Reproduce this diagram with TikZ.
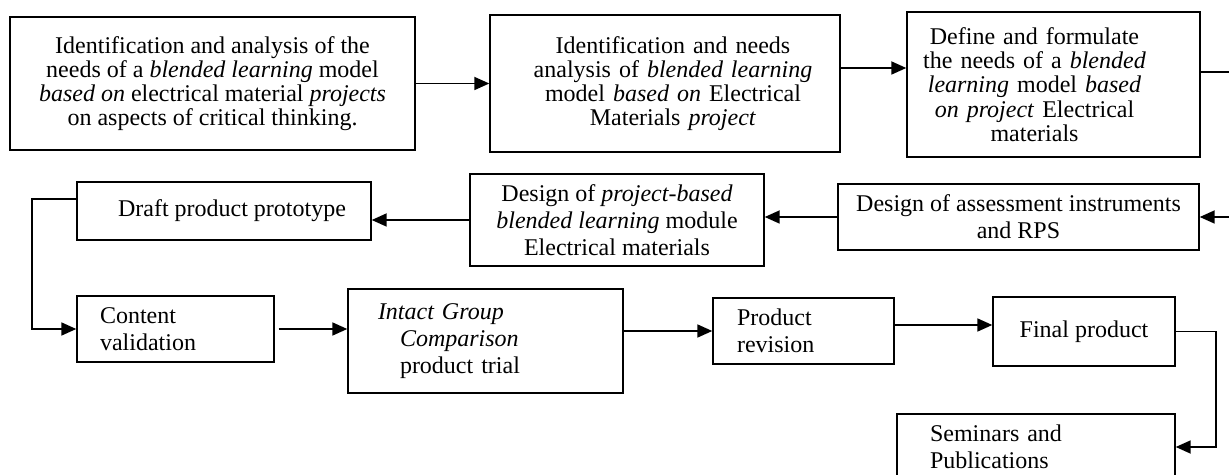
\documentclass[tikz,border=0pt]{standalone}
\usepackage{fontspec}
\setmainfont{LiberationSerif}[Extension=.ttf,UprightFont=*-Regular,ItalicFont=*-Italic,BoldFont=*-Bold,BoldItalicFont=*-BoldItalic]
\usetikzlibrary{arrows.meta,positioning}
\tikzset{font=\fontsize{12}{13.4}\selectfont}
\tikzset{every picture/.style={line width=0.9pt}}
\tikzstyle{blk}=[draw,rectangle,line width=0.7pt,inner sep=0pt,align=center]
\tikzstyle{blkl}=[blk,align=left]
\tikzstyle{tight}=[font=\fontsize{12}{12.1}\selectfont]
\newcommand{\lsh}{\hspace*{-19pt}}
\newcommand{\rsh}{\hspace*{8pt}}

\begin{document}
\begin{tikzpicture}[x=0.5pt,y=-0.5pt,>={Triangle[length=7.5pt,width=6.5pt]}]
\useasboundingbox (0,0) rectangle (1229,475);
% first row
\node[blk,tight,minimum width=202.5pt,minimum height=66.5pt] (A) at (212.5,83.5) {Identification and analysis of the\\ needs of a \textit{blended learning} model\\ \textit{based on} electrical material \textit{projects}\\ on aspects of critical thinking.};
\node[blk,tight,text width=165pt,minimum width=175pt,minimum height=68.5pt] (B) at (665,83.5) {\rsh Identification and needs\\ \rsh analysis of \textit{blended learning}\\ \rsh model \textit{based on} Electrical\\ \rsh Materials \textit{project}};
\node[blk,tight,text width=140pt,minimum width=146.5pt,minimum height=72.5pt] (C) at (1053.5,84.5) {\lsh Define and formulate\\ \lsh the needs of a \textit{blended}\\ \lsh\textit{learning} model \textit{based}\\ \lsh\textit{on project} Electrical\\ \lsh materials\par\vspace*{7pt}};
% second row
\node[blk,minimum width=180.5pt,minimum height=33pt] (D) at (1018.5,217) {Design of assessment instruments\\ and RPS};
\node[blk,minimum width=147pt,minimum height=46pt] (E) at (617,220) {Design of \textit{project-based}\\ \textit{blended learning} module\\ Electrical materials};
\node[blk,minimum width=147pt,minimum height=29pt] (F) at (224,211) {\rsh Draft product prototype};
% third row
\node[blkl,text width=75.5pt,minimum width=98.5pt,minimum height=33pt] (G) at (175.5,329) {Content\\ validation};
\node[blkl,text width=107.5pt,minimum width=137.5pt,minimum height=52pt] (H) at (485.5,341) {\textit{Intact Group}\\ \hspace*{11pt}\textit{Comparison}\\ \hspace*{11pt}product trial};
\node[blkl,text width=66.5pt,minimum width=90.5pt,minimum height=33pt] (I) at (803.5,331) {Product\\ revision};
\node[blk,minimum width=91pt,minimum height=34.5pt] (J) at (1084,331.5) {Final product};
\node[blkl,text width=106pt,minimum width=139pt,minimum height=33pt] (K) at (1036,447) {Seminars and\\ Publications};

\path[->]
(A.east) edge (A.east -| B.west)
([yshift=7.75pt]B.east) edge ([yshift=7.75pt]B.east -| C.west)
(D.west) edge (D.west -| E.east)
(E.west) edge (E.west -| F.east)
([xshift=2pt]G.east) edge (G.east -| H.west)
(H.east |- I.west) edge (I.west)
([yshift=3pt]I.east) edge ([yshift=3pt]I.east -| J.west);
\draw[->] ([yshift=6.25pt]C.east) -- ++(17pt,0) |- (D.east);
\draw[->] ([yshift=6pt]F.west) -- ++(-22pt,0) |- (G.west);
\draw[->] (J.east) -- ++(20pt,0) |- (K.east);
\end{tikzpicture}
\end{document}
